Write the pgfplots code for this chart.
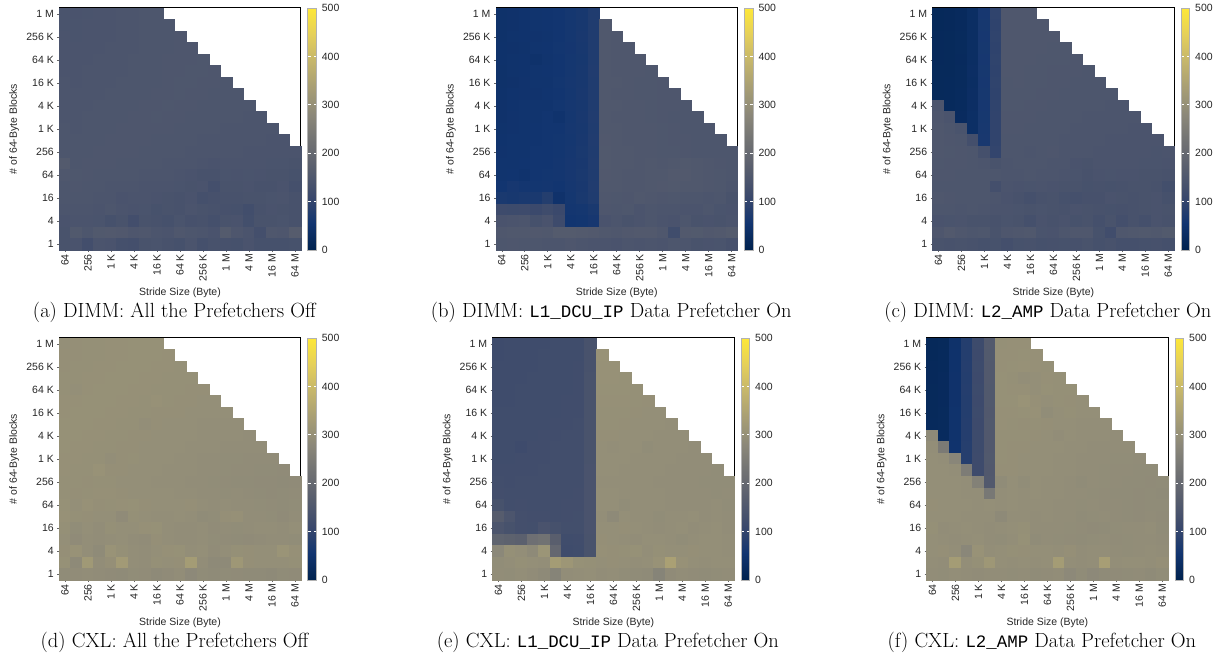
\documentclass[border=0pt]{standalone}
\usepackage{fontspec}
\usepackage{pgfplots}
\usepackage{pgfplotstable}
\pgfplotsset{compat=1.18}

\newfontfamily\axfont{Liberation Sans}
\newfontfamily\capmono[Scale=0.85]{Liberation Mono}
\newcommand\tf{\axfont\fontsize{10.5}{12}\selectfont}
\newcommand\capfont{\fontsize{20.5}{24}\selectfont}

% cividis colour map
\pgfplotsset{colormap={cividis}{rgb255=(0,34,78) rgb255=(18,53,112) rgb255=(59,73,108)
  rgb255=(87,93,109) rgb255=(112,113,115) rgb255=(138,135,121) rgb255=(166,157,117)
  rgb255=(196,181,108) rgb255=(228,207,91) rgb255=(254,232,56)}}

% Latency (ns). Rows: # of 64-byte blocks from 1M (top) down to 1.
% Columns c0..c20: stride 64 B ... 64 MB. -1 = not measured.
\pgfplotstableread{
c0 c1 c2 c3 c4 c5 c6 c7 c8 c9 c10 c11 c12 c13 c14 c15 c16 c17 c18 c19 c20
141 140 141 142 143 144 145 146 146 -1 -1 -1 -1 -1 -1 -1 -1 -1 -1 -1 -1
141 141 142 142 143 144 145 146 146 147 -1 -1 -1 -1 -1 -1 -1 -1 -1 -1 -1
142 141 142 143 143 144 145 146 147 147 148 -1 -1 -1 -1 -1 -1 -1 -1 -1 -1
142 142 143 143 144 145 145 146 147 147 148 148 -1 -1 -1 -1 -1 -1 -1 -1 -1
143 142 143 144 144 145 146 146 147 148 148 148 149 -1 -1 -1 -1 -1 -1 -1 -1
143 143 144 144 145 145 146 147 147 148 148 149 149 148 -1 -1 -1 -1 -1 -1 -1
144 143 144 145 145 146 146 147 147 148 149 149 148 148 147 -1 -1 -1 -1 -1 -1
144 144 145 145 146 146 147 147 148 148 149 148 148 147 147 146 -1 -1 -1 -1 -1
145 144 145 146 146 147 147 148 148 149 148 148 147 147 146 146 146 -1 -1 -1 -1
145 145 146 146 147 147 148 148 149 148 148 147 147 146 146 146 145 145 -1 -1 -1
146 145 146 147 147 148 148 148 148 148 147 147 146 146 145 145 145 144 144 -1 -1
146 146 147 147 148 148 148 148 147 147 146 146 145 145 145 144 144 144 143 143 -1
147 146 147 148 148 148 148 147 147 146 146 145 145 144 144 144 143 143 142 142 142
158 147 148 148 148 147 147 146 146 145 145 144 142 140 143 143 142 142 141 141 138
150 149 148 147 147 146 146 145 145 144 143 140 137 136 141 140 141 140 139 138 135
147 148 147 146 145 145 144 143 142 143 141 138 140 128 138 139 140 137 136 140 130
146 147 146 145 144 140 143 142 140 138 136 140 130 134 137 136 138 139 141 142 137
144 145 144 143 146 142 140 141 135 139 137 142 138 136 134 132 124 136 140 138 136
140 142 143 141 132 138 126 139 136 132 141 134 137 130 139 140 127 138 139 141 137
139 155 146 155 156 154 148 150 145 142 150 147 145 140 160 148 142 128 150 148 165
138 140 126 142 140 130 128 139 141 136 132 142 130 136 134 132 140 133 133 132 135
}\tabA

\pgfplotstableread{
c0 c1 c2 c3 c4 c5 c6 c7 c8 c9 c10 c11 c12 c13 c14 c15 c16 c17 c18 c19 c20
46 48 50 52 54 56 60 64 74 -1 -1 -1 -1 -1 -1 -1 -1 -1 -1 -1 -1
46 48 50 52 54 56 60 64 74 152 -1 -1 -1 -1 -1 -1 -1 -1 -1 -1 -1
46 49 50 51 53 56 60 65 75 152 151 -1 -1 -1 -1 -1 -1 -1 -1 -1 -1
47 48 49 52 54 57 59 64 75 153 151 150 -1 -1 -1 -1 -1 -1 -1 -1 -1
47 49 50 47 53 56 60 63 74 152 151 150 150 -1 -1 -1 -1 -1 -1 -1 -1
46 49 50 52 54 56 60 64 76 152 151 150 150 149 -1 -1 -1 -1 -1 -1 -1
46 48 51 52 53 57 61 64 75 153 152 150 149 149 148 -1 -1 -1 -1 -1 -1
47 50 51 51 54 56 60 65 74 152 151 150 149 149 148 148 -1 -1 -1 -1 -1
48 50 52 53 52 57 61 64 75 153 152 151 150 149 148 148 147 -1 -1 -1 -1
48 51 52 53 55 50 60 65 76 152 151 151 150 149 148 147 147 147 -1 -1 -1
49 51 52 54 55 56 61 64 75 153 152 151 150 150 149 148 147 147 146 -1 -1
50 52 53 54 55 57 60 65 76 154 152 151 151 150 149 148 148 147 146 146 -1
51 53 52 55 56 57 61 66 75 155 153 152 151 150 149 149 148 147 146 146 146
52 53 54 55 56 58 62 65 76 155 153 152 151 152 150 153 155 152 150 148 147
53 54 50 56 57 58 62 66 75 154 152 151 150 152 153 156 156 153 150 149 147
56 62 58 57 58 56 61 65 76 153 152 150 151 153 154 155 152 152 150 149 145
66 64 66 66 80 48 60 66 74 150 149 148 152 150 148 149 147 146 145 146 138
118 116 117 112 120 112 58 60 66 148 146 149 143 146 145 144 143 142 146 141 140
140 142 145 132 140 118 55 57 62 140 144 138 142 146 143 140 146 138 140 139 142
150 152 152 154 152 160 160 158 156 152 150 154 156 156 150 122 156 157 154 156 160
146 148 147 146 145 144 148 145 143 142 140 145 143 144 142 146 144 138 140 141 134
}\tabB

\pgfplotstableread{
c0 c1 c2 c3 c4 c5 c6 c7 c8 c9 c10 c11 c12 c13 c14 c15 c16 c17 c18 c19 c20
20 21 24 34 62 96 150 151 151 -1 -1 -1 -1 -1 -1 -1 -1 -1 -1 -1 -1
20 21 24 35 63 95 150 151 151 150 -1 -1 -1 -1 -1 -1 -1 -1 -1 -1 -1
21 22 25 35 62 96 151 151 150 150 150 -1 -1 -1 -1 -1 -1 -1 -1 -1 -1
21 22 25 34 63 95 151 150 150 150 149 149 -1 -1 -1 -1 -1 -1 -1 -1 -1
21 22 24 35 62 96 150 150 150 149 149 149 148 -1 -1 -1 -1 -1 -1 -1 -1
22 22 25 36 63 95 150 150 149 149 148 148 148 147 -1 -1 -1 -1 -1 -1 -1
22 23 25 35 62 96 149 150 149 149 148 148 147 147 147 -1 -1 -1 -1 -1 -1
22 23 26 36 63 95 149 149 149 148 148 147 147 147 146 146 -1 -1 -1 -1 -1
145 23 26 36 62 96 149 149 148 148 147 147 146 146 146 145 145 -1 -1 -1 -1
148 142 27 37 63 97 148 148 148 147 147 146 146 145 145 145 144 144 -1 -1 -1
150 146 141 38 64 97 148 148 147 147 146 146 145 145 144 144 144 143 143 -1 -1
150 148 147 128 65 98 147 147 146 146 146 145 145 144 144 143 143 143 142 142 -1
150 149 148 147 130 100 146 146 145 146 148 145 145 144 143 143 143 142 142 141 142
149 148 148 147 145 138 144 146 147 146 145 145 140 138 142 143 142 142 141 141 140
148 148 147 147 146 146 145 145 146 145 144 143 141 137 140 141 140 140 139 139 136
146 147 147 146 146 128 142 140 141 143 140 139 138 135 136 135 137 139 138 137 127
150 148 147 146 147 145 140 136 131 137 138 132 131 134 134 140 139 136 138 140 132
147 146 145 146 144 143 143 141 138 141 139 136 140 138 137 135 134 137 138 140 139
140 141 142 138 139 136 141 138 130 140 137 140 135 138 131 138 129 136 131 140 137
148 156 150 147 149 138 148 150 152 141 140 146 150 150 135 123 150 152 155 152 157
138 136 138 136 133 135 128 135 136 132 134 135 134 139 133 136 131 130 133 134 130
}\tabC

\pgfplotstableread{
c0 c1 c2 c3 c4 c5 c6 c7 c8 c9 c10 c11 c12 c13 c14 c15 c16 c17 c18 c19 c20
298 299 300 300 301 301 302 302 302 -1 -1 -1 -1 -1 -1 -1 -1 -1 -1 -1 -1
299 299 300 300 301 301 302 302 302 301 -1 -1 -1 -1 -1 -1 -1 -1 -1 -1 -1
299 300 300 301 301 302 302 302 301 301 300 -1 -1 -1 -1 -1 -1 -1 -1 -1 -1
300 300 301 301 302 302 302 301 301 300 300 300 -1 -1 -1 -1 -1 -1 -1 -1 -1
300 298 301 302 302 302 301 301 300 300 300 299 299 -1 -1 -1 -1 -1 -1 -1 -1
301 301 302 302 302 301 301 300 303 300 299 299 298 298 -1 -1 -1 -1 -1 -1 -1
301 302 302 302 301 301 300 300 299 299 299 298 298 297 297 -1 -1 -1 -1 -1 -1
302 302 302 301 301 300 300 296 299 298 298 297 296 296 296 296 -1 -1 -1 -1 -1
302 302 301 301 300 300 299 299 298 298 297 297 296 295 295 295 294 -1 -1 -1 -1
302 301 301 300 300 299 299 298 298 297 297 296 295 295 294 293 293 293 -1 -1 -1
301 301 300 300 296 299 300 298 297 297 296 295 294 293 292 292 291 291 291 -1 -1
301 300 300 306 299 299 298 298 297 296 296 295 294 293 292 291 291 290 290 289 -1
300 300 299 300 300 298 297 298 296 296 295 294 293 292 291 290 290 289 289 288 289
300 299 300 301 301 299 298 297 297 298 296 295 294 293 292 293 291 290 289 290 291
302 298 303 299 300 301 302 299 298 297 297 299 295 294 295 293 294 292 291 290 292
304 300 299 297 298 289 300 297 296 295 298 296 290 292 299 301 294 293 292 289 293
300 292 297 293 300 298 297 301 302 296 294 293 296 291 293 292 294 296 295 294 297
298 289 296 294 295 297 294 291 299 296 293 294 296 292 291 290 289 291 293 294 292
299 306 295 288 308 300 296 294 297 301 302 296 297 291 295 300 299 298 297 310 301
302 286 322 294 299 325 296 294 300 297 299 330 294 286 285 318 299 297 298 297 300
290 291 293 291 289 288 292 291 286 289 293 284 290 287 290 289 288 288 286 290 289
}\tabD

\pgfplotstableread{
c0 c1 c2 c3 c4 c5 c6 c7 c8 c9 c10 c11 c12 c13 c14 c15 c16 c17 c18 c19 c20
118 119 119 120 120 121 121 122 136 -1 -1 -1 -1 -1 -1 -1 -1 -1 -1 -1 -1
118 119 120 120 121 121 122 122 137 305 -1 -1 -1 -1 -1 -1 -1 -1 -1 -1 -1
119 119 120 120 121 121 122 123 137 304 303 -1 -1 -1 -1 -1 -1 -1 -1 -1 -1
119 120 120 121 121 122 122 123 138 303 303 302 -1 -1 -1 -1 -1 -1 -1 -1 -1
120 120 121 121 121 122 122 123 138 302 302 302 300 -1 -1 -1 -1 -1 -1 -1 -1
120 120 121 121 122 122 123 123 138 301 301 301 300 299 -1 -1 -1 -1 -1 -1 -1
121 121 121 122 122 122 123 123 138 300 300 300 299 298 297 -1 -1 -1 -1 -1 -1
121 121 122 122 122 123 123 124 139 300 300 299 298 298 297 296 -1 -1 -1 -1 -1
121 122 122 122 123 123 124 124 139 299 299 298 298 297 296 296 295 -1 -1 -1 -1
122 122 118 123 123 124 124 124 139 298 296 298 297 292 296 295 295 294 -1 -1 -1
122 122 123 123 123 124 124 125 139 298 297 297 296 296 295 295 294 294 293 -1 -1
123 123 123 123 124 124 125 125 140 297 297 296 296 295 295 294 294 293 293 292 -1
124 123 124 124 124 125 125 125 140 296 296 296 295 295 294 294 293 293 292 292 292
126 124 124 124 125 125 125 126 140 297 297 296 296 295 295 294 294 293 293 292 293
135 125 126 125 125 125 126 126 140 297 298 292 296 296 295 294 294 293 294 296 292
165 145 128 126 126 125 126 127 140 296 285 297 296 295 292 295 296 297 293 295 294
145 135 128 127 140 132 127 127 140 298 297 299 298 296 294 296 297 294 296 297 293
185 180 175 218 225 170 122 123 138 299 298 296 294 297 298 296 292 295 297 298 296
280 300 295 285 312 195 120 122 138 301 299 300 302 296 300 298 297 299 298 297 296
292 295 300 297 296 330 316 302 300 298 299 298 296 297 305 340 303 298 296 297 298
294 292 296 291 285 270 293 295 297 294 296 292 290 288 270 289 293 291 290 292 294
}\tabE

\pgfplotstableread{
c0 c1 c2 c3 c4 c5 c6 c7 c8 c9 c10 c11 c12 c13 c14 c15 c16 c17 c18 c19 c20
20 22 46 80 116 158 300 301 301 -1 -1 -1 -1 -1 -1 -1 -1 -1 -1 -1 -1
20 23 47 80 115 157 301 301 302 301 -1 -1 -1 -1 -1 -1 -1 -1 -1 -1 -1
21 23 47 81 116 156 301 302 303 301 300 -1 -1 -1 -1 -1 -1 -1 -1 -1 -1
21 24 48 80 115 156 302 300 295 298 301 300 -1 -1 -1 -1 -1 -1 -1 -1 -1
22 24 48 81 116 155 302 301 301 298 302 300 300 -1 -1 -1 -1 -1 -1 -1 -1
22 24 48 80 115 155 302 302 308 301 297 300 299 298 -1 -1 -1 -1 -1 -1 -1
22 25 49 80 116 154 301 301 302 303 292 298 300 297 297 -1 -1 -1 -1 -1 -1
23 25 49 81 115 155 301 300 299 300 299 298 297 296 296 296 -1 -1 -1 -1 -1
285 26 49 81 116 154 300 300 300 299 298 293 297 296 295 295 294 -1 -1 -1 -1
295 245 50 82 116 154 300 299 299 298 298 297 296 295 294 293 293 293 -1 -1 -1
297 296 275 82 117 155 300 299 298 298 297 296 295 294 293 293 292 292 291 -1 -1
297 297 296 250 118 154 299 299 298 297 297 296 295 294 293 292 291 291 290 290 -1
298 298 297 296 262 156 290 298 292 297 296 295 294 290 293 292 291 290 290 289 290
298 298 297 296 296 240 296 297 296 297 296 295 294 293 292 291 290 290 289 290 287
299 298 297 297 296 297 296 297 296 296 295 294 293 292 293 291 291 290 289 290 290
297 298 297 296 295 296 285 296 295 294 296 293 293 290 292 293 291 290 289 291 289
300 293 296 297 295 294 296 298 300 294 293 294 292 291 289 290 292 293 294 296 290
298 296 294 295 297 294 292 296 302 290 294 292 291 290 292 293 291 292 293 294 291
298 299 296 278 306 296 297 300 299 297 298 296 299 294 296 295 293 292 294 295 293
296 294 330 296 300 318 298 295 297 296 297 330 296 293 295 336 296 298 297 296 299
293 292 295 294 291 293 294 292 293 290 291 293 284 290 283 288 289 290 291 288 292
}\tabF

\pgfplotsset{
  colorbar shift/.style={xshift=7pt},
  every axis title shift=0pt,
  hm/.style={
    anchor=south west,
    width=241.4pt, height=242pt, scale only axis,
    xmin=-0.5, xmax=20.5, ymin=-0.5, ymax=20.5,
    colormap name=cividis, point meta min=0, point meta max=500,
    xtick={0,2,...,20},
    xticklabels={64,256,1 K,4 K,16 K,64 K,256 K,1 M,4 M,16 M,64 M},
    ytick={0,2,...,20},
    yticklabels={1,4,16,64,256,1 K,4 K,16 K,64 K,256 K,1 M},
    xtick pos=left, ytick pos=left,
    tick align=outside, major tick length=2pt,
    tick style={black!60, line width=0.5pt},
    axis line style={black, line width=1pt},
    xticklabel style={rotate=90, anchor=east, inner sep=2pt, font=\tf, text=black!85},
    yticklabel style={font=\tf, text=black!85},
    xlabel={Stride Size (Byte)},
    ylabel={\# of 64-Byte Blocks},
    xlabel style={at={(axis description cs:0.5,-0.186)}, anchor=base, font=\tf, text=black!85},
    ylabel style={at={(axis description cs:-0.187,0.5)}, anchor=center, font=\tf, text=black!85},
    title style={at={(axis description cs:0.4772,-0.2769)}, anchor=base, font=\capfont},
    colorbar,
    colorbar style={
      width=8.6pt,
      at={(parent axis.north east)}, anchor=north west,
      ytick={0,100,...,500},
      ytick pos=both, yticklabel pos=right,
      tick align=inside, major tick length=2.8pt,
      major tick style={white, line width=0.9pt},
      axis line style={black!30, line width=0.6pt},
      yticklabel style={font=\tf, text=black!85, xshift=2pt},
      /pgf/number format/assume math mode=true,
    },
  },
  cell/.style={scatter, only marks, mark=square*, mark size=5.85pt,
    point meta=explicit,
    scatter/use mapped color={draw=mapped color, fill=mapped color}},
}

% one scatter column per stride, square marks fill the grid cells
\newcommand\cells[1]{%
  \pgfplotsinvokeforeach{0,...,20}{%
    \addplot[cell, restrict expr to domain={\thisrow{c##1}}{0:1000}]
      table[x expr=##1, y expr=20-\coordindex, meta=c##1] {#1};
  }%
}

\begin{document}
\begin{tikzpicture}
\useasboundingbox (0pt,0pt) rectangle (1226pt,655pt);

\begin{axis}[hm, at={(59.3pt,405pt)}, title={(a) DIMM: All the Prefetchers Off}]
\cells{\tabA}
\end{axis}

\begin{axis}[hm, at={(496pt,405pt)}, title={(b) DIMM: {\capmono L1\_DCU\_IP} Data Prefetcher On}]
\cells{\tabB}
\end{axis}

\begin{axis}[hm, at={(932.7pt,405pt)}, title={(c) DIMM: {\capmono L2\_AMP} Data Prefetcher On}]
\cells{\tabC}
\end{axis}

\begin{axis}[hm, at={(59.3pt,75pt)}, title={(d) CXL: All the Prefetchers Off}]
\cells{\tabD}
\end{axis}

\begin{axis}[hm, at={(492.7pt,75pt)}, title={(e) CXL: {\capmono L1\_DCU\_IP} Data Prefetcher On}]
\cells{\tabE}
\end{axis}

\begin{axis}[hm, at={(926.7pt,75pt)}, title={(f) CXL: {\capmono L2\_AMP} Data Prefetcher On}]
\cells{\tabF}
\end{axis}

\end{tikzpicture}
\end{document}
